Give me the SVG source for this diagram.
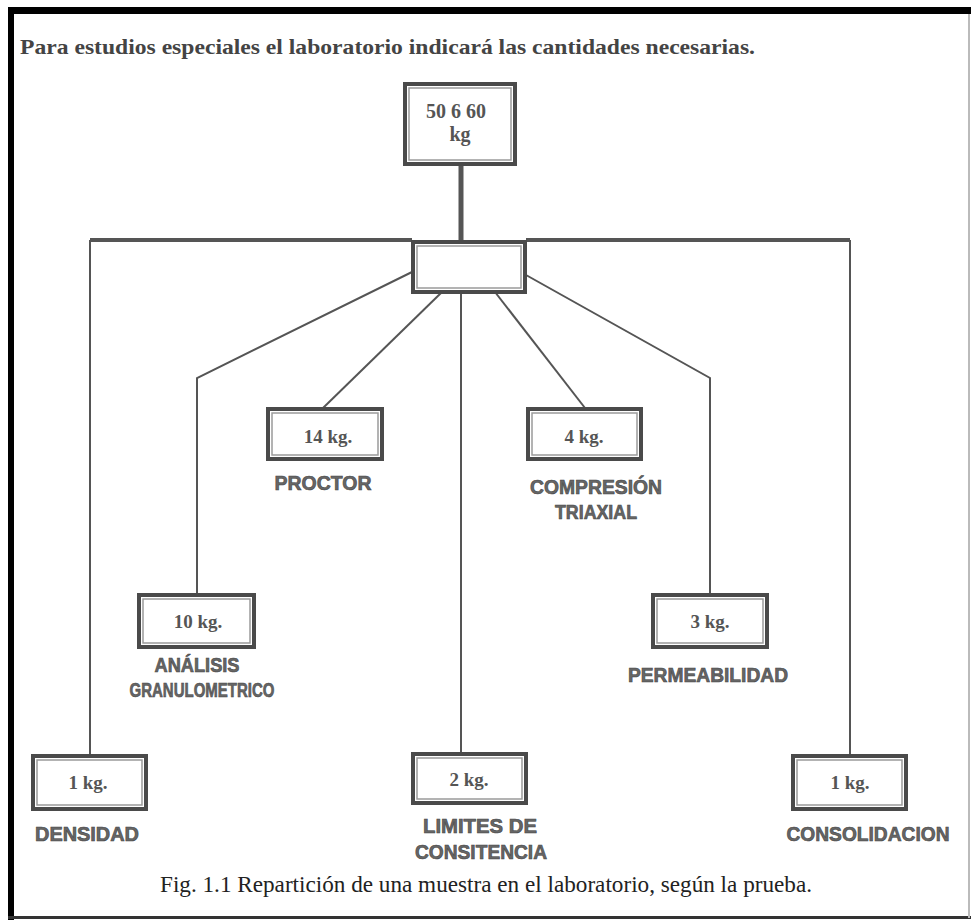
<svg xmlns="http://www.w3.org/2000/svg" width="971" height="920" viewBox="0 0 971 920">
<defs>
<style>
.box{fill:#fff;stroke:#4a4a4a;stroke-width:4}
.inner{fill:none;stroke:#9a9a9a;stroke-width:1.5}
.val{font-family:"Liberation Serif",serif;font-weight:bold;font-size:19px;fill:#555;text-anchor:middle}
.lbl{font-family:"Liberation Sans",sans-serif;font-weight:bold;font-size:20px;fill:#666;stroke:#444;stroke-width:0.6;text-anchor:middle}
.con{fill:none;stroke:#555;stroke-width:2}
</style>
</defs>
<rect x="0" y="0" width="971" height="920" fill="#fff"/>
<!-- frame -->
<rect x="8" y="7" width="963" height="7" fill="#000"/>
<rect x="8" y="7" width="6" height="913" fill="#000"/>
<rect x="8" y="916" width="963" height="3" fill="#333"/>
<rect x="968" y="14" width="2" height="904" fill="#bbb"/>
<text x="20" y="54" font-family="Liberation Serif, serif" font-weight="bold" font-size="22" fill="#444" textLength="735" lengthAdjust="spacingAndGlyphs">Para estudios especiales el laboratorio indicará las cantidades necesarias.</text>

<g id="connectors">
<line class="con" style="stroke-width:5" x1="461" y1="165" x2="461" y2="241"/>
<line class="con" style="stroke-width:4" x1="90" y1="240" x2="412" y2="240"/>
<line class="con" style="stroke-width:4" x1="526" y1="240" x2="850" y2="240"/>
<line class="con" x1="90" y1="240" x2="90" y2="755"/>
<line class="con" x1="850" y1="240" x2="850" y2="755"/>
<polyline class="con" points="412,272 197,378 197,594"/>
<polyline class="con" points="526,275 710,378 710,594"/>
<line class="con" x1="442" y1="292" x2="323" y2="408"/>
<line class="con" x1="495" y1="292" x2="585" y2="408"/>
<line class="con" x1="461" y1="292" x2="461" y2="753"/>
</g>

<g id="top">
<rect class="box" x="405" y="84" width="110" height="80"/>
<rect class="inner" x="409" y="88" width="102" height="72"/>
<text class="val" x="456" y="118" style="font-size:20px">50 6 60</text>
<text class="val" x="460" y="141" style="font-size:20px">kg</text>
</g>
<g id="hub">
<rect class="box" x="413" y="242" width="112" height="50"/>
<rect class="inner" x="417" y="246" width="104" height="42"/>
</g>
<g id="proctor">
<rect class="box" x="268" y="409" width="114" height="50"/>
<rect class="inner" x="272" y="413" width="106" height="42"/>
<text class="val" x="328" y="443">14 kg.</text>
<text class="lbl" x="323" y="490" textLength="97" lengthAdjust="spacingAndGlyphs">PROCTOR</text>
</g>
<g id="triaxial">
<rect class="box" x="528" y="409" width="113" height="50"/>
<rect class="inner" x="532" y="413" width="105" height="42"/>
<text class="val" x="584" y="443">4 kg.</text>
<text class="lbl" x="596" y="494" textLength="132" lengthAdjust="spacingAndGlyphs">COMPRESIÓN</text>
<text class="lbl" x="596" y="519" textLength="82" lengthAdjust="spacingAndGlyphs">TRIAXIAL</text>
</g>
<g id="granulometrico">
<rect class="box" x="139" y="595" width="115" height="52"/>
<rect class="inner" x="143" y="599" width="107" height="44"/>
<text class="val" x="198" y="628">10 kg.</text>
<text class="lbl" x="197" y="672" textLength="85" lengthAdjust="spacingAndGlyphs">ANÁLISIS</text>
<text class="lbl" x="202" y="697" textLength="145" lengthAdjust="spacingAndGlyphs">GRANULOMETRICO</text>
</g>
<g id="permeabilidad">
<rect class="box" x="653" y="595" width="114" height="52"/>
<rect class="inner" x="657" y="599" width="106" height="44"/>
<text class="val" x="710" y="628">3 kg.</text>
<text class="lbl" x="708" y="682" textLength="160" lengthAdjust="spacingAndGlyphs">PERMEABILIDAD</text>
</g>
<g id="densidad">
<rect class="box" x="33" y="756" width="113" height="53"/>
<rect class="inner" x="37" y="760" width="105" height="45"/>
<text class="val" x="88" y="789">1 kg.</text>
<text class="lbl" x="87" y="841" textLength="104" lengthAdjust="spacingAndGlyphs">DENSIDAD</text>
</g>
<g id="limites">
<rect class="box" x="413" y="754" width="113" height="49"/>
<rect class="inner" x="417" y="758" width="105" height="41"/>
<text class="val" x="469" y="786">2 kg.</text>
<text class="lbl" x="480" y="833" textLength="114" lengthAdjust="spacingAndGlyphs">LIMITES DE</text>
<text class="lbl" x="481" y="859" textLength="132" lengthAdjust="spacingAndGlyphs">CONSITENCIA</text>
</g>
<g id="consolidacion">
<rect class="box" x="793" y="756" width="113" height="53"/>
<rect class="inner" x="797" y="760" width="105" height="45"/>
<text class="val" x="850" y="789">1 kg.</text>
<text class="lbl" x="868" y="841" textLength="163" lengthAdjust="spacingAndGlyphs">CONSOLIDACION</text>
</g>
<text x="486" y="892" font-family="Liberation Serif, serif" font-size="23" fill="#222" text-anchor="middle" textLength="652" lengthAdjust="spacingAndGlyphs">Fig. 1.1 Repartición de una muestra en el laboratorio, según la prueba.</text>
</svg>
